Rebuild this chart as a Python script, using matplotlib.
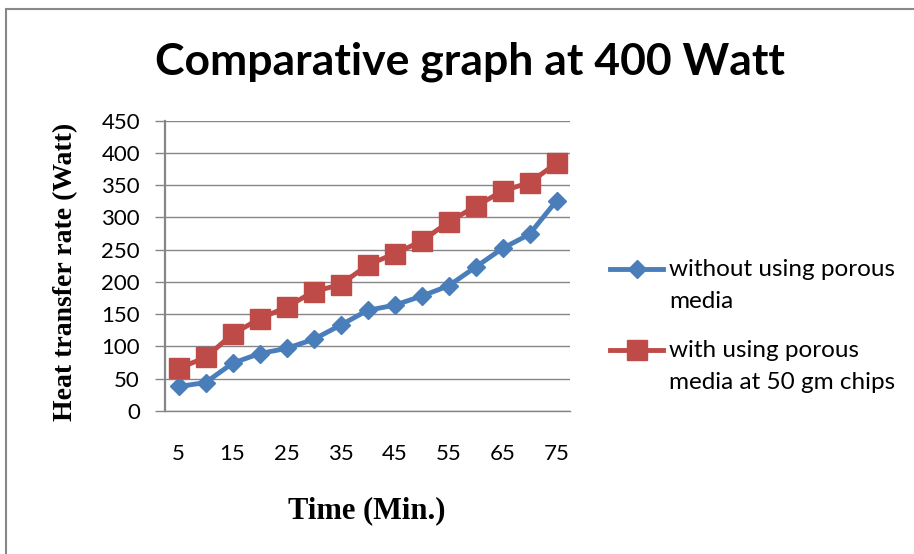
import matplotlib
matplotlib.use('Agg')
import matplotlib.pyplot as plt
from matplotlib.patches import Rectangle
from matplotlib.lines import Line2D

# time in minutes, heat transfer rate in Watt
time_min = [5, 10, 15, 20, 25, 30, 35, 40, 45, 50, 55, 60, 65, 70, 75]
without_porous = [38, 44, 74, 89, 97, 111, 133, 156, 164, 178, 194, 223, 252, 274, 326]
with_porous = [66, 83, 119, 143, 161, 185, 196, 226, 244, 263, 293, 317, 341, 354, 384]

y_ticks = [0, 50, 100, 150, 200, 250, 300, 350, 400, 450]
x_tick_labels = time_min[::2]
series_labels = ['without using porous\nmedia', 'with using porous\nmedia at 50 gm chips']

W, H = 914, 554
fig = plt.figure(figsize=(W / 100, H / 100), dpi=100)
ax = fig.add_axes([165 / W, 1 - 411 / H, 405 / W, 290.3 / H])

blue = '#4A7EBB'
red = '#BE4B48'
grid_c = '#868686'

styles = [dict(color=blue, linewidth=3.5, marker='D', markersize=9),
          dict(color=red, linewidth=3.5, marker='s', markersize=14)]

ax.plot(time_min, without_porous, label=series_labels[0], **styles[0])
ax.plot(time_min, with_porous, label=series_labels[1], **styles[1])

ax.set_xlim(2.5, 77.5)
ax.set_ylim(0, 450)
ax.set_yticks(y_ticks)
ax.set_xticks(x_tick_labels)
ax.set_xticklabels([str(v) for v in x_tick_labels])

ax.yaxis.grid(True, color=grid_c, linewidth=1.0)
ax.set_axisbelow(True)
for s in ['top', 'right']:
    ax.spines[s].set_visible(False)
ax.spines['left'].set_color(grid_c)
ax.spines['left'].set_linewidth(1.6)
ax.spines['bottom'].set_color(grid_c)
ax.spines['bottom'].set_linewidth(1.0)

tick_font = 'Lato'
ax.tick_params(axis='y', length=7, width=1.0, color=grid_c, pad=11, labelsize=16)
ax.tick_params(axis='x', length=0, pad=24, labelsize=16)
for lab in ax.get_xticklabels() + ax.get_yticklabels():
    lab.set_fontfamily(tick_font)

ax.set_xlabel('Time (Min.)', fontfamily='Liberation Serif', fontweight='bold', fontsize=22)
ax.xaxis.label.set_va('baseline')
ax.xaxis.set_label_coords(0.499, (411 - 518) / 290.3)
ax.set_ylabel('Heat transfer rate (Watt)', fontfamily='Liberation Serif', fontweight='bold', fontsize=20)
ax.yaxis.label.set_va('baseline')
ax.yaxis.set_label_coords((72 - 165) / 405, (411 - 271.5) / 290.3)

fig.text(469.5 / W, 1 - 75 / H, 'Comparative graph at 400 Watt', ha='center', va='baseline',
         fontfamily='Lato', fontweight='bold', fontsize=32)

# legend, handle aligned with the first text line as in the original
leg_rows = [269, 350]
for y, lab, st in zip(leg_rows, series_labels, styles):
    fy = 1 - y / H
    fig.add_artist(Line2D([610 / W, 663 / W], [fy, fy], color=st['color'],
                          linewidth=st['linewidth'], transform=fig.transFigure))
    fig.add_artist(Line2D([636.5 / W], [fy], color=st['color'], marker=st['marker'],
                          markersize=st['markersize'], linestyle='none',
                          transform=fig.transFigure))
    fig.text(669 / W, 1 - (y + 16.5) / H, lab, ha='left', va='center', fontfamily='Lato',
             fontsize=17.5, linespacing=1.62)

# chart area border (cropped on right and bottom)
fig.patches.append(Rectangle((6 / W, -0.1), 1.2, 1.1 - 9 / H, transform=fig.transFigure,
                             fill=False, edgecolor='#888888', linewidth=1.5))

fig.savefig('out.png', dpi=100)
